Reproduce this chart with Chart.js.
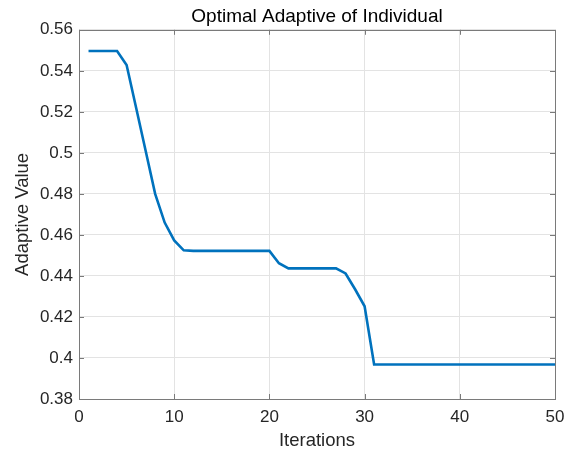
<!DOCTYPE html>
<html>
<head>
<meta charset="utf-8">
<script src="https://cdn.jsdelivr.net/npm/chart.js@4.4.0/dist/chart.umd.min.js"></script>
<style>
  html, body { margin: 0; padding: 0; background: #fff; }
  #wrap { width: 573px; height: 457px; }
</style>
</head>
<body>
<div id="wrap"><canvas id="chart"></canvas></div>
<script>
const iterations = [1, 2, 3, 4, 5, 6, 7, 8, 9, 10,
  11, 12, 13, 14, 15, 16, 17, 18, 19, 20,
  21, 22, 23, 24, 25, 26, 27, 28, 29, 30,
  31, 32, 33, 34, 35, 36, 37, 38, 39, 40,
  41, 42, 43, 44, 45, 46, 47, 48, 49, 50];
const adaptiveValues = [0.5497, 0.5497, 0.5497, 0.5497, 0.5428, 0.5220, 0.5010, 0.4800, 0.4660, 0.4573,
  0.4525, 0.4522, 0.4522, 0.4522, 0.4522, 0.4522, 0.4522, 0.4522, 0.4522, 0.4522,
  0.4462, 0.4437, 0.4437, 0.4437, 0.4437, 0.4437, 0.4437, 0.4412, 0.4335, 0.4252,
  0.3968, 0.3968, 0.3968, 0.3968, 0.3968, 0.3968, 0.3968, 0.3968, 0.3968, 0.3968,
  0.3968, 0.3968, 0.3968, 0.3968, 0.3968, 0.3968, 0.3968, 0.3968, 0.3968, 0.3968];
const xTicks = [0, 10, 20, 30, 40, 50];
const yTicks = [0.38, 0.4, 0.42, 0.44, 0.46, 0.48, 0.5, 0.52, 0.54, 0.56];

const FONT = "'Liberation Sans', Arial, Helvetica, sans-serif";
const TEXT = "#262626";

// box around the axes and inward tick marks, like matlab
const boxPlugin = {
  id: "box",
  afterDraw(chart) {
    const { ctx, chartArea: a, scales } = chart;
    ctx.save();
    ctx.strokeStyle = "#7a7a7a";
    ctx.lineWidth = 1;
    ctx.beginPath();
    xTicks.forEach((t) => {
      const px = Math.round(scales.x.getPixelForValue(t)) + 0.5;
      ctx.moveTo(px, a.bottom); ctx.lineTo(px, a.bottom - 5);
      ctx.moveTo(px, a.top); ctx.lineTo(px, a.top + 5);
    });
    yTicks.forEach((t) => {
      const py = Math.round(scales.y.getPixelForValue(t)) + 0.5;
      ctx.moveTo(a.left, py); ctx.lineTo(a.left + 5, py);
      ctx.moveTo(a.right, py); ctx.lineTo(a.right - 5, py);
    });
    ctx.stroke();
    ctx.strokeRect(Math.round(a.left) + 0.5, Math.round(a.top) + 0.5,
      Math.round(a.right - a.left), Math.round(a.bottom - a.top));
    ctx.restore();
  },
};

new Chart(document.getElementById("chart"), {
  type: "line",
  data: {
    datasets: [
      {
        data: iterations.map((it, i) => ({ x: it, y: adaptiveValues[i] })),
        borderColor: "#0072BD",
        borderWidth: 2.6,
        pointRadius: 0,
        tension: 0,
        fill: false,
      },
    ],
  },
  options: {
    responsive: true,
    maintainAspectRatio: false,
    animation: false,
    devicePixelRatio: 1,
    layout: { padding: { left: 0, right: 18, top: 0, bottom: 0 } },
    plugins: {
      legend: { display: false },
      tooltip: { enabled: false },
      title: {
        display: true,
        fullSize: false,
        text: "Optimal Adaptive of Individual",
        color: "#000",
        font: { family: FONT, size: 19, weight: "normal" },
        padding: { top: 5, bottom: 2 },
      },
    },
    scales: {
      x: {
        type: "linear",
        min: 0,
        max: 50,
        afterBuildTicks: (s) => { s.ticks = xTicks.map((v) => ({ value: v })); },
        afterFit: (s) => { s.height = 58; },
        grid: { color: "#e3e3e3", drawTicks: false },
        border: { display: false },
        ticks: { color: TEXT, padding: 8, font: { family: FONT, size: 17 } },
        title: {
          display: true,
          text: "Iterations",
          color: TEXT,
          font: { family: FONT, size: 18.5 },
          padding: { top: 2, bottom: 5 },
        },
      },
      y: {
        min: 0.38,
        max: 0.56,
        afterBuildTicks: (s) => { s.ticks = yTicks.map((v) => ({ value: v })); },
        afterFit: (s) => { s.width = 79; },
        grid: { color: "#e3e3e3", drawTicks: false },
        border: { display: false },
        ticks: {
          color: TEXT,
          padding: 6,
          font: { family: FONT, size: 17 },
          callback: (v) => String(Number(v.toFixed(2))),
        },
        title: {
          display: true,
          text: "Adaptive Value",
          color: TEXT,
          font: { family: FONT, size: 18.5 },
          padding: { top: 12, bottom: 0 },
        },
      },
    },
  },
  plugins: [boxPlugin],
});
</script>
</body>
</html>
